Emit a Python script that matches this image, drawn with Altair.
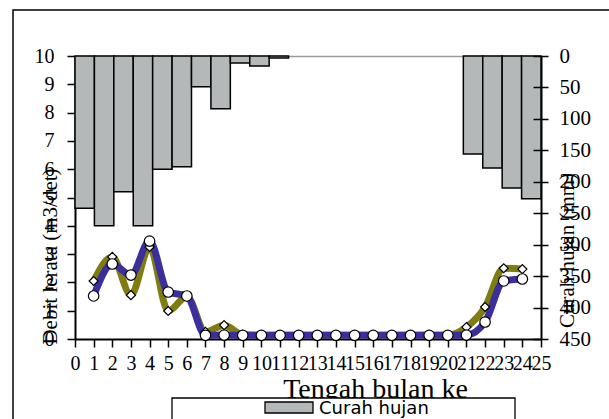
import altair as alt
import pandas as pd

# ---- data ----
periods = list(range(1, 25))
curah_hujan = [242, 270, 216, 270, 180, 176, 49, 84, 11, 16, 3, 0,
               0, 0, 0, 0, 0, 0, 0, 0, 156, 178, 210, 227]
debit_bulat = [1.52, 2.65, 2.26, 3.46, 1.66, 1.52, 0.13, 0.14, 0.13, 0.13, 0.13, 0.13,
               0.13, 0.13, 0.13, 0.13, 0.13, 0.13, 0.13, 0.13, 0.14, 0.60, 2.05, 2.12]
debit_belah = [2.05, 2.90, 1.55, 3.25, 0.99, 1.50, 0.25, 0.49, 0.15, 0.13, 0.13, 0.13,
               0.13, 0.13, 0.13, 0.13, 0.13, 0.13, 0.13, 0.13, 0.42, 1.13, 2.50, 2.47]
x_ticks = list(range(0, 26))
left_ticks = list(range(0, 11))
right_ticks = list(range(0, 451, 50))
legend_label = ["Curah hujan"]

W, H = 466, 283
SERIF = "Liberation Serif"

df_bar = pd.DataFrame({"period": periods, "rain": curah_hujan})
df_bar = df_bar[df_bar["rain"] > 0]
df_line = pd.DataFrame({"period": periods, "a": debit_bulat, "b": debit_belah})
one = pd.DataFrame({"k": [0]})
df_leg = pd.DataFrame({"label": legend_label})

# ---- bars (rainfall, reversed right axis) ----
bars = alt.Chart(df_bar).mark_rect(fill="#b4b8b8", stroke="black", strokeWidth=1.5).transform_calculate(
    x0="datum.period - 1"
).encode(
    x=alt.X("x0:Q", scale=alt.Scale(domain=[0, 24], nice=False, zero=False),
            axis=alt.Axis(orient="top", labels=False, ticks=False, grid=False, title=None,
                          domainColor="#9a9a9a", domainWidth=1.5)),
    x2="period:Q",
    y=alt.Y("rain:Q", scale=alt.Scale(domain=[0, 450], reverse=True, nice=False, zero=True),
            axis=alt.Axis(orient="right", values=right_ticks, grid=False,
                          tickSize=7, tickWidth=1.5, tickColor="black",
                          domainColor="black", domainWidth=2,
                          labelFont=SERIF, labelFontSize=21, labelColor="black",
                          labelPadding=11, labelOverlap=False, labelBound=False,
                          title="Curah hujan (mm)", titleFont=SERIF, titleFontSize=21,
                          titleFontWeight="normal", titleColor="black", titleAngle=270,
                          titleX=26, titleY=194, titleAlign="center", titleBaseline="middle")),
    y2=alt.datum(0),
)

# ---- lines ----
xenc = alt.X("period:Q", scale=alt.Scale(domain=[0, 25], nice=False, zero=True),
             axis=alt.Axis(orient="bottom", values=x_ticks, grid=False,
                           tickSize=8, tickWidth=1.5, tickColor="black",
                           domainColor="black", domainWidth=2,
                           labelFont=SERIF, labelFontSize=20, labelColor="black",
                           labelPadding=6, labelOverlap=False, labelFlush=False, labelBound=False,
                           title="Tengah  bulan  ke", titleFont=SERIF, titleFontSize=28,
                           titleFontWeight="normal", titleColor="black",
                           titleX=300, titleY=58, titleAlign="center", titleBaseline="alphabetic"))
yscale = alt.Scale(domain=[0, 10], nice=False, zero=True)
yaxis = alt.Axis(orient="left", values=left_ticks, grid=False,
                 tickSize=8, tickWidth=1.5, tickColor="black",
                 domainColor="black", domainWidth=2,
                 labelFont=SERIF, labelFontSize=20, labelColor="black",
                 labelPadding=13, labelOverlap=False, labelBound=False,
                 title="Debit lerata (m3/det)", titleFont=SERIF, titleFontSize=21,
                 titleFontWeight="normal", titleColor="black", titleAngle=270,
                 titleX=-25, titleY=200, titleAlign="center", titleBaseline="middle")

base = alt.Chart(df_line)
line_b = base.mark_line(color="#7f7d12", strokeWidth=7, interpolate="monotone").encode(
    x=xenc, y=alt.Y("b:Q", scale=yscale, axis=yaxis))
line_a = base.mark_line(color="#3b2f9e", strokeWidth=7, interpolate="monotone").encode(
    x=xenc, y=alt.Y("a:Q", scale=yscale, axis=yaxis))
pts_b = base.mark_point(shape="diamond", filled=True, fill="white", stroke="black",
                        strokeWidth=1.2, size=81, opacity=1).encode(
    x=xenc, y=alt.Y("b:Q", scale=yscale, axis=yaxis))
pts_a = base.mark_point(shape="circle", filled=True, fill="white", stroke="black",
                        strokeWidth=1.2, size=110, opacity=1).encode(
    x=xenc, y=alt.Y("a:Q", scale=yscale, axis=yaxis))
lines = alt.layer(line_b, line_a, pts_b, pts_a)

# ---- inward ticks on the right axis ----
inner_ticks = alt.Chart(df_bar).mark_point(opacity=0).encode(
    y=alt.Y("rain:Q", scale=alt.Scale(domain=[0, 450], reverse=True, nice=False, zero=True),
            axis=alt.Axis(orient="left", offset=-W, values=right_ticks, labels=False,
                          domain=False, grid=False, tickSize=8, tickWidth=1.5,
                          tickColor="black", title=None, zindex=1)))

# ---- decorations: outer frame and legend ----
frame = alt.Chart(one).mark_rect(fill=None, stroke="black", strokeWidth=1.5).encode(
    x=alt.value(-62), x2=alt.value(700), y=alt.value(-46), y2=alt.value(500))
leg_box = alt.Chart(one).mark_rect(fill="white", stroke="black", strokeWidth=1.3).encode(
    x=alt.value(97), x2=alt.value(440), y=alt.value(342), y2=alt.value(440))
leg_swatch = alt.Chart(one).mark_rect(fill="#b4b8b8", stroke="black", strokeWidth=1.3).encode(
    x=alt.value(190), x2=alt.value(238), y=alt.value(346), y2=alt.value(357))
leg_text = alt.Chart(df_leg).mark_text(font="DejaVu Sans", fontSize=18, align="left",
                                       baseline="alphabetic", color="black").encode(
    x=alt.value(244), y=alt.value(358), text="label:N")

chart = alt.layer(
    bars, lines, inner_ticks, frame, leg_box, leg_swatch, leg_text
).resolve_scale(
    x="independent", y="independent"
).properties(
    width=W, height=H,
    padding={"left": 75, "top": 56, "right": 68, "bottom": 80},
    autosize=alt.AutoSizeParams(type="none"),
    background="white",
).configure_view(stroke=None)

chart.save("out.html", embed_options={"renderer": "svg", "actions": False})
